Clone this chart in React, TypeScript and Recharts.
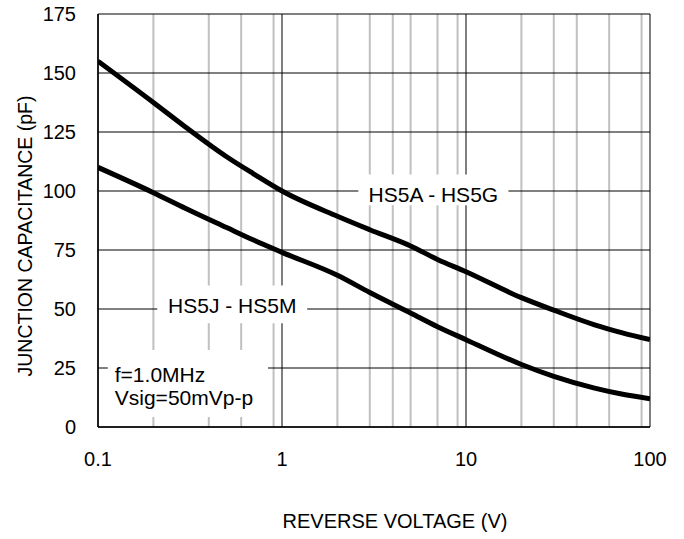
import React from 'react';
import { LineChart, Line, XAxis, YAxis, CartesianGrid, ReferenceArea, Label } from 'recharts';

const voltages = [0.1, 0.2, 0.3, 0.5, 0.7, 1, 2, 3, 5, 7, 10, 20, 30, 50, 70, 100];
const capHS5A = [155, 137.5, 127, 114.5, 107.3, 100, 89.3, 83.6, 76.7, 71, 65.8, 54.8, 49.5, 43.3, 40, 37];
const capHS5J = [110, 99.3, 92.6, 84.5, 79.2, 74, 64.3, 57, 48.3, 42.5, 37, 26.5, 21.5, 16.5, 14, 12];

const xTicks = [0.1, 1, 10, 100];
const yTicks = [0, 25, 50, 75, 100, 125, 150, 175];
const minorX = [0.2, 0.3, 0.4, 0.5, 0.6, 0.7, 0.8, 0.9, 2, 3, 4, 5, 6, 7, 8, 9, 20, 30, 40, 50, 60, 70, 80, 90];

const data = voltages.map((v, i) => ({ v, a: capHS5A[i], j: capHS5J[i] }));

const font = 'Liberation Sans, Arial, Helvetica, sans-serif';
const tickStyle = { fontSize: 20, fill: '#000', fontFamily: font };

export default function App() {
  return (
    <div style={{ position: 'absolute', left: 0, top: 0, width: 684, height: 539, background: '#fff' }}>
      <LineChart width={684} height={539} data={data} margin={{ top: 14, right: 34, bottom: 52, left: 38 }}>
        {/* minor decade lines */}
        <CartesianGrid horizontal={false} verticalValues={minorX} stroke="#c0c0c0" strokeWidth={2} />
        {/* major lines */}
        <CartesianGrid horizontalValues={yTicks} verticalValues={xTicks} stroke="#000" strokeWidth={1} />
        <XAxis
          dataKey="v"
          type="number"
          scale="log"
          domain={[0.1, 100]}
          ticks={xTicks}
          allowDataOverflow
          height={60}
          tickLine={false}
          tickSize={0}
          tickMargin={25}
          axisLine={{ stroke: '#000', strokeWidth: 1.5 }}
          tick={tickStyle}
          tickFormatter={(t) => String(t)}
        >
          <Label
            content={() => (
              <text x={395} y={528} textAnchor="middle" fontSize={20} fontFamily={font} fill="#000">
                REVERSE VOLTAGE (V)
              </text>
            )}
          />
        </XAxis>
        <YAxis
          type="number"
          domain={[0, 175]}
          ticks={yTicks}
          width={60}
          tickLine={false}
          tickSize={0}
          tickMargin={22}
          axisLine={{ stroke: '#000', strokeWidth: 1.5 }}
          tick={tickStyle}
        >
          <Label
            content={() => (
              <text transform="translate(32,236) rotate(-90)" textAnchor="middle" fontSize={19.5} fontFamily={font} fill="#000">
                JUNCTION CAPACITANCE (pF)
              </text>
            )}
          />
        </YAxis>
        <ReferenceArea x1={2.6} x2={17} y1={94} y2={107} fill="#fff" fillOpacity={1} stroke="none"
          label={{ value: 'HS5A - HS5G', position: 'center', fontSize: 21, fill: '#000', fontFamily: font, dy: 5 }} />
        <ReferenceArea x1={0.21} x2={1.37} y1={44} y2={60} fill="#fff" fillOpacity={1} stroke="none"
          label={{ value: 'HS5J - HS5M', position: 'center', fontSize: 21, fill: '#000', fontFamily: font, dy: 1 }} />
        <ReferenceArea x1={0.113} x2={0.84} y1={4.2} y2={32.6} fill="#fff" fillOpacity={1} stroke="none"
          label={{
            content: (p: any) => {
              const vb = p.viewBox || { x: 108, y: 350 };
              return (
                <text fontSize={21} fontFamily={font} fill="#000">
                  <tspan x={vb.x + 7} y={vb.y + 32}>f=1.0MHz</tspan>
                  <tspan x={vb.x + 7} y={vb.y + 55}>Vsig=50mVp-p</tspan>
                </text>
              );
            },
          }} />
        <Line type="monotone" dataKey="a" stroke="#000" strokeWidth={5} dot={false} isAnimationActive={false} />
        <Line type="monotone" dataKey="j" stroke="#000" strokeWidth={5} dot={false} isAnimationActive={false} />
      </LineChart>
    </div>
  );
}
